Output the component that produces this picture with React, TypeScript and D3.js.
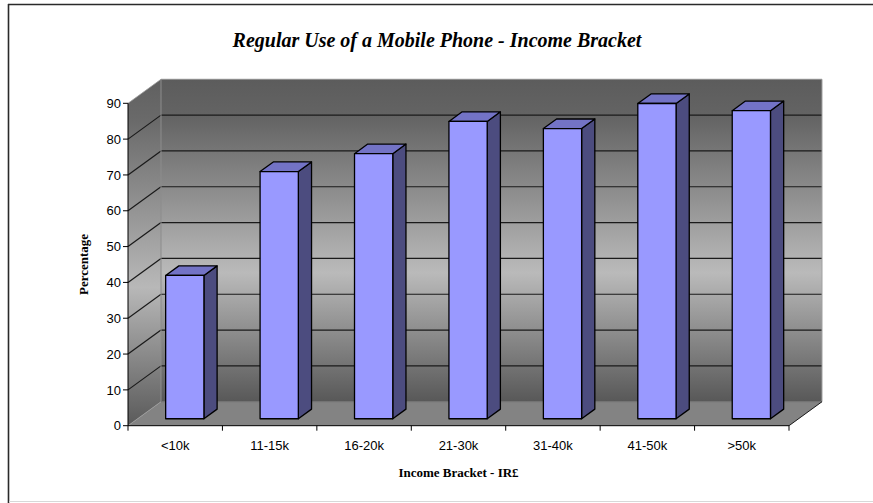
import React from "react";
import * as d3 from "d3";

const categories = ["<10k", "11-15k", "16-20k", "21-30k", "31-40k", "41-50k", ">50k"];
const percentages = [40, 69, 74, 83, 81, 88, 86];
const yTicks = [0, 10, 20, 30, 40, 50, 60, 70, 80, 90];

const W = 873;
const H = 503;
const X0 = 128;
const X1 = 789;
const Y0 = 425.7;
const Y90 = 103.3;
const DX = 33;
const DY = -24;
const D0 = 0.29;
const D1 = 0.69;

export default function App() {
  const x = d3.scaleBand<string>().domain(categories).range([X0, X1]).paddingInner(0).paddingOuter(0);
  const y = d3.scaleLinear().domain([0, 90]).range([Y0, Y90]);
  const bw = x.bandwidth();
  const barW = bw * 0.405;

  const backL = X0 + DX;
  const backR = X1 + DX;
  const backTop = y(90) + DY;
  const backBot = y(0) + DY;

  const pts = (a: number[][]) => a.map((p) => p.join(",")).join(" ");

  return (
    <svg width={W} height={H} style={{ position: "absolute", left: 0, top: 0 }} xmlns="http://www.w3.org/2000/svg">
      <defs>
        <linearGradient id="wallG" gradientUnits="userSpaceOnUse" x1="0" y1={backTop} x2="0" y2={backBot}>
          <stop offset="0" stopColor="#5c5c5c" />
          <stop offset="0.12" stopColor="#646464" />
          <stop offset="0.6" stopColor="#bababa" />
          <stop offset="1" stopColor="#585858" />
        </linearGradient>
        <linearGradient id="sideG" gradientUnits="userSpaceOnUse" x1="0" y1={backTop} x2="0" y2={y(0)}>
          <stop offset="0" stopColor="#606060" />
          <stop offset="0.12" stopColor="#6a6a6a" />
          <stop offset="0.6" stopColor="#b8b8b8" />
          <stop offset="1" stopColor="#5a5a5a" />
        </linearGradient>
      </defs>
      <rect x={0} y={0} width={W} height={H} fill="#ffffff" />
      {/* outer border */}
      <line x1={8.5} y1={4} x2={8.5} y2={H} stroke="#2a2a2a" strokeWidth={1.6} />
      <line x1={8} y1={4.5} x2={W} y2={4.5} stroke="#2a2a2a" strokeWidth={1.6} />
      <line x1={9} y1={501.5} x2={W} y2={501.5} stroke="#d8d8d8" strokeWidth={1} />

      {/* title */}
      <text x={437} y={47} textAnchor="middle" fontFamily="'Liberation Serif', 'Times New Roman', serif" fontWeight="bold" fontStyle="italic" fontSize={20} fill="#000">
        Regular Use of a Mobile Phone - Income Bracket
      </text>

      {/* back wall */}
      <rect x={backL} y={backTop} width={backR - backL} height={backBot - backTop} fill="url(#wallG)" />
      {/* left side wall */}
      <polygon points={pts([[X0, y(90)], [backL, backTop], [backL, backBot], [X0, y(0)]])} fill="url(#sideG)" />
      {/* floor */}
      <polygon points={pts([[X0, y(0)], [X1, y(0)], [backR, backBot], [backL, backBot]])} fill="#838383" />

      {/* gridlines */}
      {yTicks.filter((t) => t > 0 && t < 90).map((t) => (
        <g key={"g" + t}>
          <line x1={backL} y1={y(t) + DY} x2={backR} y2={y(t) + DY} stroke="#1a1a1a" strokeWidth={1.2} />
          <line x1={X0} y1={y(t)} x2={backL} y2={y(t) + DY} stroke="#1a1a1a" strokeWidth={1.2} />
        </g>
      ))}
      {/* wall edges */}
      <line x1={backL} y1={backTop} x2={backL} y2={backBot} stroke="#8c8c8c" strokeWidth={1} />
      <line x1={backL} y1={backTop} x2={backR} y2={backTop} stroke="#8c8c8c" strokeWidth={1} />
      <line x1={backR} y1={backTop} x2={backR} y2={backBot} stroke="#a0a0a0" strokeWidth={1} />
      <line x1={X0} y1={y(90)} x2={backL} y2={backTop} stroke="#9a9a9a" strokeWidth={0.8} />
      <line x1={X0} y1={y(0)} x2={backL} y2={backBot} stroke="#9a9a9a" strokeWidth={0.8} />
      <line x1={backL} y1={backBot} x2={backR} y2={backBot} stroke="#6e6e6e" strokeWidth={1} />
      <line x1={X1} y1={y(0)} x2={backR} y2={backBot} stroke="#1a1a1a" strokeWidth={1} />

      {/* bars */}
      {categories.map((c, i) => {
        const v = percentages[i];
        const fx = (x(c) as number) + (bw - barW) / 2 + D0 * DX;
        const fb = y(0) + D0 * DY;
        const ft = y(v) + D0 * DY;
        const ddx = (D1 - D0) * DX;
        const ddy = (D1 - D0) * DY;
        return (
          <g key={c} stroke="#000" strokeWidth={1.3} strokeLinejoin="round">
            <polygon points={pts([[fx + barW, ft], [fx + barW + ddx, ft + ddy], [fx + barW + ddx, fb + ddy], [fx + barW, fb]])} fill="#4c4c7f" />
            <polygon points={pts([[fx, ft], [fx + ddx, ft + ddy], [fx + barW + ddx, ft + ddy], [fx + barW, ft]])} fill="#7373c6" />
            <rect x={fx} y={ft} width={barW} height={fb - ft} fill="#9999ff" />
          </g>
        );
      })}

      {/* y axis */}
      <line x1={X0} y1={y(90)} x2={X0} y2={y(0)} stroke="#000" strokeWidth={1} />
      {yTicks.map((t) => (
        <g key={"y" + t}>
          <line x1={X0 - 5} y1={y(t)} x2={X0} y2={y(t)} stroke="#000" strokeWidth={1} />
          <text x={X0 - 7} y={y(t)} dy="0.36em" textAnchor="end" fontFamily="'Liberation Sans', Arial, sans-serif" fontSize={13} fill="#000">
            {t}
          </text>
        </g>
      ))}

      {/* x axis */}
      <line x1={X0} y1={y(0)} x2={X1} y2={y(0)} stroke="#000" strokeWidth={1} />
      {[...categories.map((c) => x(c) as number), X1].map((px, i) => (
        <line key={"xt" + i} x1={px} y1={y(0)} x2={px} y2={y(0) + 5} stroke="#000" strokeWidth={1} />
      ))}
      {categories.map((c) => (
        <text key={"xl" + c} x={(x(c) as number) + bw / 2} y={450} textAnchor="middle" fontFamily="'Liberation Sans', Arial, sans-serif" fontSize={13} fill="#000">
          {c}
        </text>
      ))}

      {/* axis titles */}
      <text x={458.5} y={477} textAnchor="middle" fontFamily="'Liberation Serif', 'Times New Roman', serif" fontWeight="bold" fontSize={13} fill="#000">
        Income Bracket - IR£
      </text>
      <text transform={`translate(88,${(y(0) + y(90)) / 2}) rotate(-90)`} textAnchor="middle" fontFamily="'Liberation Serif', 'Times New Roman', serif" fontWeight="bold" fontSize={13} fill="#000">
        Percentage
      </text>
    </svg>
  );
}
